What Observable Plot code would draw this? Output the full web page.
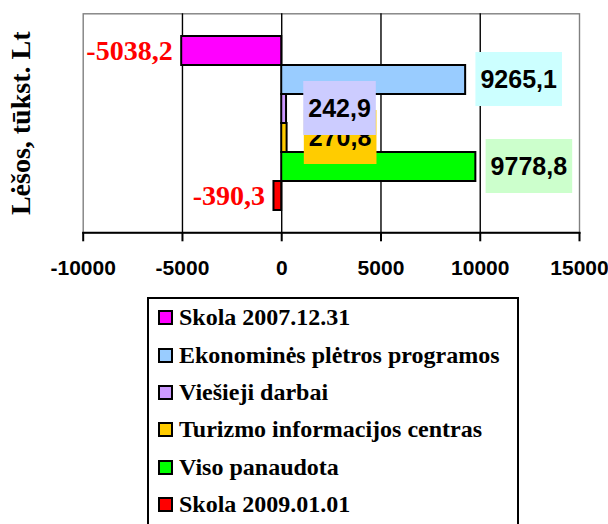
<!DOCTYPE html>
<html><head><meta charset="utf-8">
<script src="https://cdn.jsdelivr.net/npm/d3@7"></script>
<script src="https://cdn.jsdelivr.net/npm/@observablehq/plot@0.6"></script>
<style>
body{margin:0;background:#fff;}
#wrap{position:relative;width:608px;height:524px;overflow:hidden;background:#fff;}
#wrap svg{display:block;position:absolute;left:0;top:0;}
#legend{position:absolute;left:147px;top:297px;width:368px;height:260px;border:2px solid #000;background:#fff;color:#000;}
.row{position:absolute;left:0;height:30px;display:flex;align-items:center;white-space:nowrap;font-family:"Liberation Serif","Times New Roman",serif;font-weight:bold;font-size:24px;}
.sw{width:11px;height:11px;border:2px solid #000;margin-left:9px;margin-right:6px;flex:none;}
</style></head>
<body>
<div id="wrap"></div>
<script>
const series = ["Skola 2007.12.31", "Ekonominės plėtros programos", "Viešieji darbai", "Turizmo informacijos centras", "Viso panaudota", "Skola 2009.01.01"];
const values = [-5038.2, 9265.1, 242.9, 270.8, 9778.8, -390.3];
const barColors = ["#FF00FF", "#99CCFF", "#CC99FF", "#FFCC00", "#00FF00", "#FF0000"];
const labelBoxColors = [null, "#CCFFFF", "#CCCCFF", "#FFCC00", "#CCFFCC", null];
const xTicks = [-10000, -5000, 0, 5000, 10000, 15000];
const yTitle = "Lėšos, tūkst. Lt";
const labelLayerOrder = [1, 3, 2, 4]; // drawing order of positive labels

const rows = series.map((s, i) => ({series: s, value: values[i], color: barColors[i], box: labelBoxColors[i]}));
const neg = rows.filter(d => d.value < 0);
const pos = labelLayerOrder.map(i => rows[i]);
const fmt = v => v.toFixed(1).replace(".", ",");
const gridTicks = xTicks.slice(1, -1);

const tag = name => (index, scales, values, dims, context, next) => {
  const g = next(index, scales, values, dims, context);
  g.setAttribute("data-role", name);
  return g;
};

const plot = Plot.plot({
  width: 608, height: 290,
  marginLeft: 82.7, marginRight: 29, marginTop: 13.3, marginBottom: 57.7,
  x: {domain: [xTicks[0], xTicks[xTicks.length - 1]]},
  y: {domain: series, paddingInner: 0, paddingOuter: 0.75, axis: null},
  style: {fontFamily: "'Liberation Sans', Arial, sans-serif", background: "white", color: "black"},
  marks: [
    Plot.frame({stroke: "#808080", strokeWidth: 1.4}),
    Plot.ruleX(gridTicks, {stroke: "black", strokeWidth: 1.4}),
    Plot.barX(rows, {x: "value", y: "series", fill: "color", stroke: "black", strokeWidth: 2}),
    Plot.frame({anchor: "bottom", stroke: "black", strokeWidth: 2}),
    Plot.axisX({ticks: xTicks, tickSize: 9, tickPadding: 18.7, tickFormat: d => String(d), fontSize: 21, fontWeight: "bold", strokeWidth: 2, label: null}),
    Plot.text(neg, {x: "value", y: "series", text: d => fmt(d.value), textAnchor: "end", dx: -9, fill: "#FF0000",
      fontFamily: "'Liberation Serif', 'Times New Roman', serif", fontSize: 28, fontWeight: "bold"}),
    Plot.text(pos, {x: "value", y: "series", text: d => fmt(d.value), dx: 53, fill: "black",
      fontSize: 25, fontWeight: "bold", render: tag("poslabels")}),
    Plot.text([yTitle], {frameAnchor: "left", textAnchor: "middle", dx: -61.7, rotate: -90, fill: "black",
      fontFamily: "'Liberation Serif', 'Times New Roman', serif", fontSize: 28, fontWeight: "bold"})
  ]
});
const wrap = document.getElementById("wrap");
wrap.appendChild(plot);

// label background boxes
const ns = "http://www.w3.org/2000/svg";
const lg = plot.querySelector('[data-role="poslabels"]');
if (lg) {
  lg.querySelectorAll("text").forEach((t, i) => {
    const b = t.getBBox();
    const cy = b.y + b.height / 2;
    const r = document.createElementNS(ns, "rect");
    r.setAttribute("x", b.x - 5);
    r.setAttribute("width", b.width + 10);
    r.setAttribute("y", cy - 27);
    r.setAttribute("height", 54);
    r.setAttribute("fill", pos[i].box);
    if (t.getAttribute("transform")) r.setAttribute("transform", t.getAttribute("transform"));
    t.parentNode.insertBefore(r, t);
  });
}

// legend
const legend = document.createElement("div");
legend.id = "legend";
series.forEach((s, i) => {
  const row = document.createElement("div");
  row.className = "row";
  row.style.top = (3.7 + 37.4 * i) + "px";
  const sw = document.createElement("div");
  sw.className = "sw";
  sw.style.background = barColors[i];
  const tx = document.createElement("span");
  tx.textContent = s;
  row.appendChild(sw);
  row.appendChild(tx);
  legend.appendChild(row);
});
wrap.appendChild(legend);
</script>
</body></html>
